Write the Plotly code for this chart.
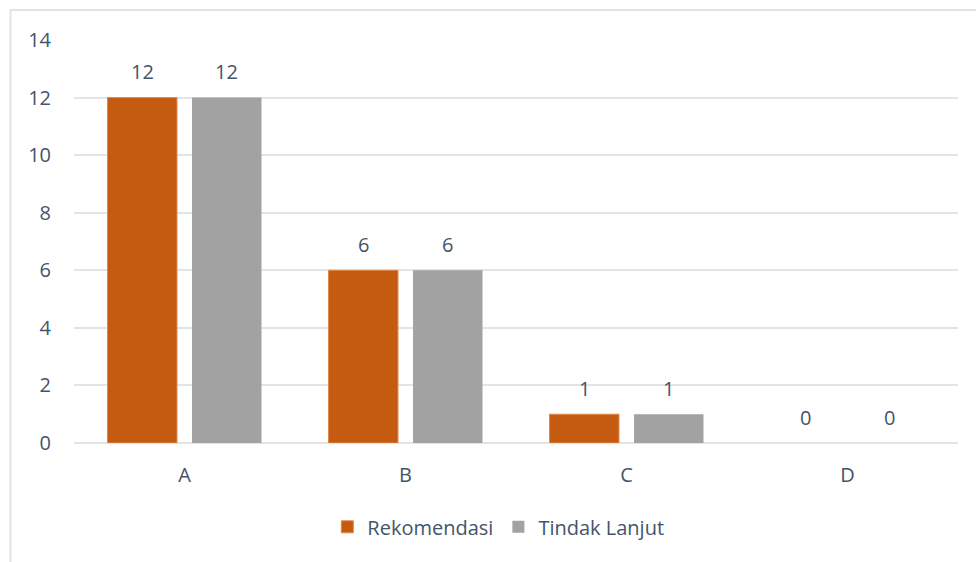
import plotly.graph_objects as go

categories = ["A", "B", "C", "D"]
rekomendasi = [12, 6, 1, 0]
tindak_lanjut = [12, 6, 1, 0]
y_ticks = [0, 2, 4, 6, 8, 10, 12, 14]

TEXT = "#44546A"
GRID = "#E1E4EA"
FONT = "Open Sans"
FS = 20

W, H = 976, 562
ML, MR, MT, MB = 74, 18, 40, 119
BARGAP, GROUPGAP = 0.235, 0.178

fig = go.Figure()
fig.add_trace(go.Bar(
    name="Rekomendasi", x=categories, y=rekomendasi,
    marker=dict(color="#C55A11",
                line=dict(color="#E08848", width=[1 if v > 0 else 0 for v in rekomendasi])),
))
fig.add_trace(go.Bar(
    name="Tindak Lanjut", x=categories, y=tindak_lanjut,
    marker=dict(color="#A2A2A2", line=dict(width=0)),
))

# data labels above bars
slot_px = (W - ML - MR) / len(categories) * (1 - BARGAP) / 2
annotations = []
for series, sign in ((rekomendasi, -1), (tindak_lanjut, 1)):
    for c, v in zip(categories, series):
        annotations.append(dict(
            x=c, y=v, xref="x", yref="y", text=str(v), showarrow=False,
            xshift=sign * slot_px / 2, yshift=26, yanchor="middle",
            font=dict(size=FS, color=TEXT, family=FONT),
        ))

fig.update_layout(
    width=W, height=H,
    margin=dict(l=ML, r=MR, t=MT, b=MB),
    paper_bgcolor="white", plot_bgcolor="white",
    barmode="group", bargap=BARGAP, bargroupgap=GROUPGAP,
    font=dict(family=FONT, color=TEXT, size=FS),
    showlegend=True,
    legend=dict(orientation="h", x=0.48, xanchor="center", y=-0.208, yanchor="middle",
                font=dict(size=FS, color=TEXT, family=FONT), itemwidth=30,
                traceorder="normal"),
    xaxis=dict(showgrid=False, showline=False, ticks="", ticklabelstandoff=18,
               tickfont=dict(size=FS, color=TEXT)),
    yaxis=dict(range=[0, 14], tickvals=y_ticks, showgrid=True, gridcolor=GRID,
               gridwidth=2, zeroline=True, zerolinecolor=GRID, zerolinewidth=2,
               showline=False, ticks="", ticklabelstandoff=22,
               tickfont=dict(size=FS, color=TEXT)),
    annotations=annotations,
    shapes=[dict(type="rect", xref="paper", yref="paper",
                 x0=-0.0718, x1=1.2, y0=-0.5, y1=1.0744,
                 line=dict(color="#DFE3EA", width=2), layer="below")],
)

fig.write_html("out.html", config={"displayModeBar": False},
               post_script="document.body.style.margin='0';document.body.style.overflow='hidden';")
